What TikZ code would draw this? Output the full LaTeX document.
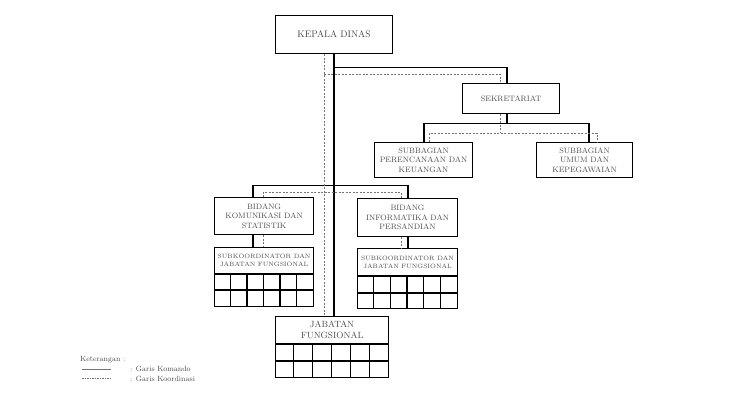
\documentclass[tikz,border=0pt]{standalone}
\usepackage{fontspec}
\usetikzlibrary{calc}
\begin{document}
\begin{tikzpicture}[x=1pt,y=-1pt,
 box/.style={draw=black, line width=1.1pt, fill=white, anchor=north west, inner sep=0pt, align=center, text=black!70, font=\fontsize{7.8}{9.5}\selectfont},
 txt/.style={inner sep=0pt, align=center, text=black!70},
 cmd/.style={line width=1.1pt, draw=black},
 crd/.style={draw=black!55, line width=0.6pt, dash pattern=on 2pt off 1.5pt},
 cell/.style={line width=1.1pt, draw=black},
]
\useasboundingbox (0,0) rectangle (750,415);

% boxes
\node[box, minimum width=117pt, minimum height=38pt, font=\fontsize{9.5}{11}\selectfont] (kd) at (275,15) {KEPALA DINAS};
\node[box, minimum width=97pt, minimum height=30pt] (sek) at (462,83) {SEKRETARIAT};
\node[box, minimum width=98pt, minimum height=35pt] (sbp) at (374,142) {SUBBAGIAN\\PERENCANAAN DAN\\KEUANGAN};
\node[box, minimum width=96pt, minimum height=35pt] (sbu) at (536,142) {SUBBAGIAN\\UMUM DAN\\KEPEGAWAIAN};
\node[box, minimum width=99pt, minimum height=37pt] (bk) at (214,197) {BIDANG\\KOMUNIKASI DAN\\STATISTIK};
\node[box, minimum width=100pt, minimum height=38pt] (bi) at (357,198) {BIDANG\\INFORMATIKA DAN\\PERSANDIAN};
\node[box, minimum width=99pt, minimum height=59pt] (sk1) at (214,247) {};
\node[box, minimum width=100pt, minimum height=60pt] (sk2) at (357,248) {};
\node[box, minimum width=113pt, minimum height=61pt] (jf) at (275,316) {};

% texts inside grid boxes
\node[txt, font=\fontsize{6.2}{8}\selectfont] (sk1t) at ($(sk1.north)+(0,13.5)$) {SUBKOORDINATOR DAN\\JABATAN FUNGSIONAL};
\node[txt, font=\fontsize{6.2}{8}\selectfont] (sk2t) at ($(sk2.north)+(0,14)$) {SUBKOORDINATOR DAN\\JABATAN FUNGSIONAL};
\node[txt, font=\fontsize{9}{10.5}\selectfont] (jft) at ($(jf.north)+(0,14)$) {JABATAN\\FUNGSIONAL};

% grids
\foreach \n/\w/\ra/\rb/\h in {sk1/16.5/27/43/59, sk2/16.6667/28/45/60, jf/18.8333/28/45/61} {
  \draw[cell] ($(\n.north west)+(0,\ra)$) -- ($(\n.north east)+(0,\ra)$);
  \draw[cell] ($(\n.north west)+(0,\rb)$) -- ($(\n.north east)+(0,\rb)$);
  \foreach \i in {1,...,5}
    \draw[cell] ($(\n.north west)+(\i*\w,\ra)$) -- ($(\n.north west)+(\i*\w,\h)$);
}

% command lines
\draw[cmd] ($(kd.south west)+(59,0)$) -- ($(jf.north west)+(59,0)$);
\draw[cmd] ($(kd.south west)+(59,13)$) -| ($(sek.north west)+(45,0)$);
\draw[cmd] ($(sek.south west)+(45,0)$) -- ++(0,9);
\draw[cmd] ($(sbp.north west)+(50,0)$) |- ($(sek.south west)+(45,9)$) -| ($(sbu.north west)+(53,0)$);
\draw[cmd] ($(bk.north west)+(39,0)$) |- ($(kd.south west)+(59,131)$) -| ($(bi.north west)+(51,0)$);
\draw[cmd] ($(bk.south west)+(39,0)$) -- ($(sk1.north west)+(39,0)$);
\draw[cmd] ($(bi.south west)+(51,0)$) -- ($(sk2.north west)+(51,0)$);

% coordination lines
\draw[crd] ($(kd.south west)+(49,0)$) -- ($(jf.north west)+(49,0)$);
\draw[crd] ($(kd.south west)+(49,20)$) -| ($(sek.north west)+(38,0)$);
\draw[crd] ($(sek.south west)+(38,0)$) -- ++(0,19);
\draw[crd] ($(sbp.north west)+(55,0)$) |- ($(sek.south west)+(38,19)$) -| ($(sbu.north west)+(61,0)$);
\draw[crd] ($(bk.north west)+(49,0)$) |- ($(kd.south west)+(49,138)$) -| ($(bi.north west)+(44,0)$);
\draw[crd] ($(bk.south west)+(49,0)$) -- ($(sk1.north west)+(49,0)$);
\draw[crd] ($(bi.south west)+(44,0)$) -- ($(sk2.north west)+(44,0)$);

% legend
\node[txt, anchor=west, font=\fontsize{7.5}{9}\selectfont] (ket) at (80,360) {Keterangan :};
\coordinate (l1a) at (82,369);
\coordinate (l1b) at (111,369);
\coordinate (l2a) at (82,378);
\coordinate (l2b) at (111,378);
\draw[draw=black!55, line width=0.5pt] (l1a) -- (l1b);
\draw[draw=black!55, line width=0.5pt, dash pattern=on 1.5pt off 1pt] (l2a) -- (l2b);
\node[txt, anchor=west, font=\fontsize{7.5}{9}\selectfont] (gk) at (130,369) {: Garis Komando};
\node[txt, anchor=west, font=\fontsize{7.5}{9}\selectfont] (gko) at (130,379) {: Garis Koordinasi};
\end{tikzpicture}
\end{document}
